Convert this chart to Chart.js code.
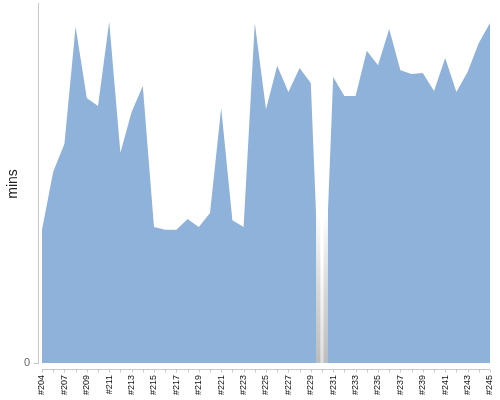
<!DOCTYPE html>
<html>
<head>
<meta charset="utf-8">
<script src="https://cdn.jsdelivr.net/npm/chart.js@4"></script>
<style>
  html, body { margin: 0; padding: 0; background: #fff; }
  #wrap { width: 500px; height: 400px; }
</style>
</head>
<body>
<div id="wrap"><canvas id="c" width="500" height="400"></canvas></div>
<script>
const builds = ['#204','#205','#207','#208','#209','#210','#211','#212','#213','#214',
  '#215','#216','#217','#218','#219','#220','#221','#222','#223','#224',
  '#225','#226','#227','#228','#229','#230','#231','#232','#233','#234',
  '#235','#236','#237','#238','#239','#240','#241','#242','#243','#244','#245'];
const durations = [37.2, 53.4, 61.2, 93.9, 74.0, 71.8, 95.3, 58.7, 70.1, 77.4,
  38.0, 37.2, 37.2, 40.2, 38.0, 41.9, 71.2, 39.9, 38.0, 95.0,
  70.9, 83.0, 75.7, 82.4, 78.2, 0, 79.9, 74.6, 74.6, 87.2,
  83.2, 93.3, 81.8, 80.7, 81.0, 76.0, 85.2, 75.7, 81.3, 89.4, 95.0];
const failedBuilds = ['#230'];
const yMax = 100;
const yTickValues = [0];

const failedData = builds.map(b => failedBuilds.includes(b) ? yMax : null);

function vGradient(chart, stops) {
  const a = chart.chartArea;
  if (!a) return '#ccc';
  const g = chart.ctx.createLinearGradient(0, a.top, 0, a.bottom);
  stops.forEach(([p, c]) => g.addColorStop(p, c));
  return g;
}

const axisPlugin = {
  id: 'axisLines',
  afterDraw(chart) {
    const ctx = chart.ctx, a = chart.chartArea, xs = chart.scales.x, ys = chart.scales.y;
    ctx.save();
    ctx.strokeStyle = '#c8c8c8';
    ctx.lineWidth = 1;
    const yx = Math.round(a.left - 4) + 0.5;
    ctx.beginPath();
    ctx.moveTo(yx, a.top - 2);
    ctx.lineTo(yx, a.bottom + 1);
    yTickValues.forEach(v => {
      const py = Math.round(ys.getPixelForValue(v)) + 0.5;
      ctx.moveTo(yx - 5, py);
      ctx.lineTo(yx, py);
    });
    const xy = Math.round(a.bottom + 6) + 0.5;
    ctx.moveTo(a.left, xy);
    ctx.lineTo(a.right, xy);
    builds.forEach((b, i) => {
      const px = Math.round(xs.getPixelForValue(i)) + 0.5;
      ctx.moveTo(px, xy);
      ctx.lineTo(px, xy + 3);
    });
    ctx.stroke();
    ctx.restore();
  }
};

new Chart(document.getElementById('c'), {
  type: 'line',
  data: {
    labels: builds,
    datasets: [
      {
        type: 'line',
        label: 'duration',
        data: durations,
        fill: 'origin',
        backgroundColor: 'rgb(143,178,218)',
        borderColor: 'rgb(143,178,218)',
        borderWidth: 0,
        pointRadius: 0,
        tension: 0,
        order: 3
      },
      {
        type: 'bar',
        label: 'failed',
        data: failedData,
        grouped: false,
        barPercentage: 1,
        categoryPercentage: 1,
        borderWidth: 0,
        backgroundColor(ctx) {
          return vGradient(ctx.chart, [[0, '#ffffff'], [0.58, '#ffffff'], [0.8, 'rgb(215,215,215)'], [1, 'rgb(188,188,188)']]);
        },
        order: 2
      },
      {
        type: 'bar',
        label: 'failed-highlight',
        data: failedData,
        grouped: false,
        barPercentage: 0.3,
        categoryPercentage: 1,
        borderWidth: 0,
        backgroundColor(ctx) {
          return vGradient(ctx.chart, [[0, '#ffffff'], [0.7, '#ffffff'], [1, 'rgb(220,220,220)']]);
        },
        order: 1
      }
    ]
  },
  options: {
    responsive: false,
    animation: false,
    layout: { padding: { top: 5, right: 10, left: 0, bottom: 0 } },
    plugins: { legend: { display: false }, tooltip: { enabled: false } },
    scales: {
      x: {
        type: 'category',
        offset: false,
        grid: { display: false, drawTicks: false },
        border: { display: false },
        afterFit(s) { s.height = 37; s.paddingLeft = 0; s.paddingRight = 0; },
        ticks: {
          autoSkip: false,
          minRotation: 90,
          maxRotation: 90,
          padding: 12,
          color: '#111',
          font: { family: 'Liberation Sans', size: 9 },
          callback(v, i) { return i % 2 === 0 ? builds[i] : ''; }
        }
      },
      y: {
        min: 0,
        max: yMax,
        grid: { display: false, drawTicks: false },
        border: { display: false },
        afterFit(s) { s.width = 42; s.paddingTop = 0; s.paddingBottom = 0; },
        afterBuildTicks(s) { s.ticks = yTickValues.map(v => ({ value: v })); },
        ticks: {
          padding: 12,
          color: '#666',
          font: { family: 'Liberation Sans', size: 11 }
        },
        title: {
          display: true,
          text: 'mins',
          color: '#222',
          padding: { top: 5, bottom: 0 },
          font: { family: 'Liberation Sans', size: 14 }
        }
      }
    }
  },
  plugins: [axisPlugin]
});
</script>
</body>
</html>
